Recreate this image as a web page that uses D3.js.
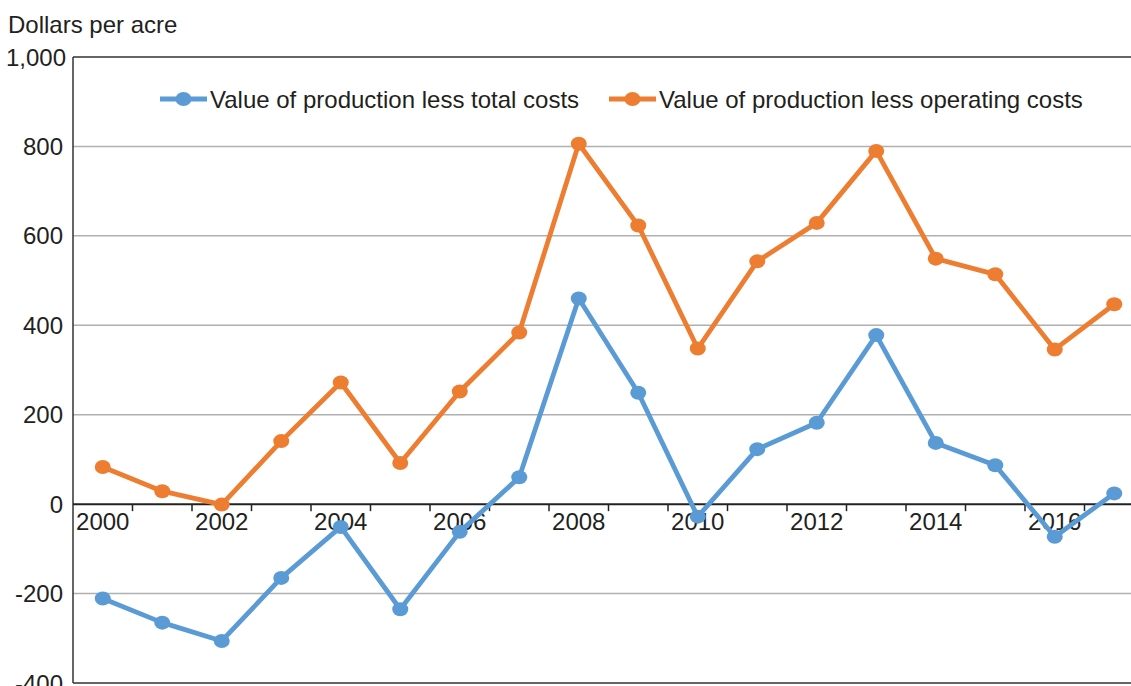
<!DOCTYPE html>
<html lang="en">
<head>
<meta charset="UTF-8">
<title>Dollars per acre</title>
<script src="https://d3js.org/d3.v7.min.js"></script>
<style>
  body { margin: 0; background: #fff; }
  svg { display: block; font-family: 'Liberation Sans', Arial, sans-serif; }
</style>
</head>
<body>
<div id="chart"></div>
<script>
// chart data
const years = ["2000","2001","2002","2003","2004","2005","2006","2007","2008",
               "2009","2010","2011","2012","2013","2014","2015","2016","2017"];
const lessTotalCosts = [-211,-265,-306,-165,-51,-235,-62,60,460,249,-28,123,182,378,137,87,-73,24];
const lessOperatingCosts = [83,29,-1,141,272,92,252,384,806,623,348,543,629,790,549,514,346,447];
const yTicks = [-400,-200,0,200,400,600,800,1000];
const xLabels = ["2000","2002","2004","2006","2008","2010","2012","2014","2016"];
const seriesNames = ["Value of production less total costs", "Value of production less operating costs"];
const seriesColors = ["#5b9bd5", "#ed7d31"];

const W = 1131, H = 686;
const plotLeft = 73, plotTop = 57, plotBottom = 683, step = 59.5;
const fs = 24;

const svg = d3.select("#chart").append("svg")
    .attr("width", W).attr("height", H);

const x = d3.scaleBand().domain(years).range([plotLeft, plotLeft + step * years.length]);
const y = d3.scaleLinear().domain([-400, 1000]).range([plotBottom, plotTop]);
const cx = d => x(d) + x.bandwidth() / 2;

// gridlines
svg.append("g").selectAll("line")
    .data(yTicks.filter(t => t !== 0 && t !== 1000 && t !== -400))
    .join("line")
    .attr("x1", plotLeft).attr("x2", W)
    .attr("y1", d => y(d)).attr("y2", d => y(d))
    .attr("stroke", "#b0b0b0").attr("stroke-width", 1.5);

// frame
svg.append("line").attr("x1", plotLeft).attr("x2", W).attr("y1", y(1000)).attr("y2", y(1000))
    .attr("stroke", "#333").attr("stroke-width", 1.5);
svg.append("line").attr("x1", plotLeft).attr("x2", W).attr("y1", y(-400)).attr("y2", y(-400))
    .attr("stroke", "#333").attr("stroke-width", 1.5);
svg.append("line").attr("x1", plotLeft).attr("x2", plotLeft).attr("y1", y(1000)).attr("y2", y(-400))
    .attr("stroke", "#333").attr("stroke-width", 1.5);

// zero axis with ticks at category boundaries
svg.append("line").attr("x1", plotLeft).attr("x2", W).attr("y1", y(0)).attr("y2", y(0))
    .attr("stroke", "#222").attr("stroke-width", 2);
svg.append("g").selectAll("line")
    .data(years.slice(1))
    .join("line")
    .attr("x1", d => x(d)).attr("x2", d => x(d))
    .attr("y1", y(0)).attr("y2", y(0) + 7)
    .attr("stroke", "#222").attr("stroke-width", 1.5);

// y tick labels
svg.append("g").selectAll("text")
    .data(yTicks)
    .join("text")
    .attr("x", d => d === 1000 ? 66 : 63).attr("y", d => y(d))
    .attr("dy", "0.36em")
    .attr("text-anchor", "end")
    .attr("font-size", fs).attr("fill", "#231f20")
    .text(d => d3.format(",")(d).replace("−", "-"));

// x labels
svg.append("g").selectAll("text")
    .data(xLabels)
    .join("text")
    .attr("x", d => cx(d)).attr("y", 530)
    .attr("text-anchor", "middle")
    .attr("font-size", fs).attr("fill", "#231f20")
    .text(d => d);

svg.append("text").attr("x", 8).attr("y", 33)
    .attr("font-size", fs).attr("fill", "#231f20")
    .text("Dollars per acre");

// series
const line = d3.line().x((d, i) => cx(years[i])).y(d => y(d));
[lessTotalCosts, lessOperatingCosts].forEach((vals, k) => {
  const g = svg.append("g");
  g.append("path").datum(vals)
      .attr("d", line).attr("fill", "none")
      .attr("stroke", seriesColors[k]).attr("stroke-width", 4.8)
      .attr("stroke-linejoin", "round");
  g.selectAll("ellipse").data(vals).join("ellipse")
      .attr("cx", (d, i) => cx(years[i])).attr("cy", d => y(d))
      .attr("rx", 8).attr("ry", 7)
      .attr("fill", seriesColors[k]);
});

// legend
const legendX = [160, 609];
seriesNames.forEach((name, k) => {
  const g = svg.append("g").attr("transform", `translate(${legendX[k]},99)`);
  g.append("line").attr("x1", 0).attr("x2", 47)
      .attr("stroke", seriesColors[k]).attr("stroke-width", 4.8);
  g.append("ellipse").attr("cx", 23.5).attr("cy", 0).attr("rx", 8).attr("ry", 7)
      .attr("fill", seriesColors[k]);
  g.append("text").attr("x", 50).attr("y", 0).attr("dy", "0.36em")
      .attr("font-size", fs).attr("fill", "#231f20")
      .text(name);
});
</script>
</body>
</html>
